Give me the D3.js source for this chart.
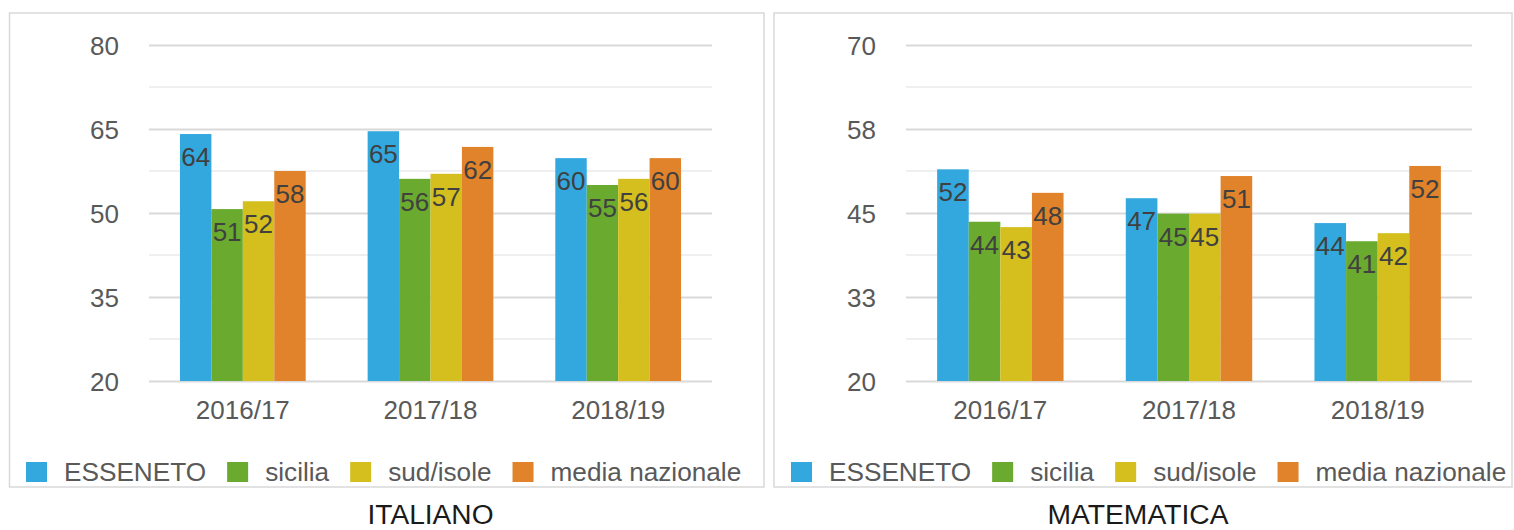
<!DOCTYPE html>
<html>
<head>
<meta charset="utf-8">
<script src="https://cdn.jsdelivr.net/npm/d3@7"></script>
<style>
  html, body { margin: 0; padding: 0; background: #ffffff; }
  svg { display: block; }
  text { font-family: "Liberation Sans", Arial, Helvetica, sans-serif; }
</style>
</head>
<body>
<svg id="chart" width="1514" height="530"></svg>
<script>
// ---------- DATA ----------
const categories = ["2016/17", "2017/18", "2018/19"];
const seriesNames = ["ESSENETO", "sicilia", "sud/isole", "media nazionale"];
const seriesColors = ["#33a8df", "#6aab2f", "#d4bf1f", "#e0832a"];

// ITALIANO
const italianoEsseneto = [64.1, 64.6, 59.8];
const italianoSicilia  = [50.7, 56.1, 55.0];
const italianoSud      = [52.1, 57.0, 56.1];
const italianoMedia    = [57.5, 61.8, 59.8];
const italianoTicks      = [20, 35, 50, 65, 80];
const italianoTickLabels = ["20", "35", "50", "65", "80"];

// MATEMATICA
const matematicaEsseneto = [51.5, 47.2, 43.5];
const matematicaSicilia  = [43.7, 44.9, 40.8];
const matematicaSud      = [42.9, 44.9, 42.0];
const matematicaMedia    = [48.0, 50.5, 52.0];
const matematicaTicks      = [20, 32.5, 45, 57.5, 70];
const matematicaTickLabels = ["20", "33", "45", "58", "70"];

const panels = [
  { title: "ITALIANO", series: [italianoEsseneto, italianoSicilia, italianoSud, italianoMedia],
    ticks: italianoTicks, tickLabels: italianoTickLabels,
    box: { x: 9.5, y: 13, w: 754.5, h: 474 }, plot: { x0: 149, x1: 712, y0: 45, y1: 381 },
    legendX: 26, titleX: 430.5, titleW: 126 },
  { title: "MATEMATICA", series: [matematicaEsseneto, matematicaSicilia, matematicaSud, matematicaMedia],
    ticks: matematicaTicks, tickLabels: matematicaTickLabels,
    box: { x: 774, y: 13, w: 738, h: 474 }, plot: { x0: 906, x1: 1472, y0: 45, y1: 381 },
    legendX: 791, titleX: 1138, titleW: 181 }
];

const svg = d3.select("#chart");

panels.forEach(p => {
  const g = svg.append("g");

  // panel border
  g.append("rect")
    .attr("x", p.box.x).attr("y", p.box.y)
    .attr("width", p.box.w).attr("height", p.box.h)
    .attr("fill", "#fff").attr("stroke", "#d9d9d9").attr("stroke-width", 1.5);

  const y = d3.scaleLinear()
    .domain([p.ticks[0], p.ticks[p.ticks.length - 1]])
    .range([p.plot.y1, p.plot.y0]);

  const x0 = d3.scaleBand()
    .domain(categories)
    .range([p.plot.x0, p.plot.x1])
    .paddingInner(0.33).paddingOuter(0.165);

  const x1 = d3.scaleBand()
    .domain(d3.range(seriesNames.length))
    .range([0, x0.bandwidth()])
    .padding(0);

  // minor gridlines
  const minor = p.ticks.slice(1).map((t, i) => (t + p.ticks[i]) / 2);
  g.selectAll(".minor").data(minor).enter().append("line")
    .attr("x1", p.plot.x0).attr("x2", p.plot.x1)
    .attr("y1", d => y(d)).attr("y2", d => y(d))
    .attr("stroke", "#efefef").attr("stroke-width", 2);

  // major gridlines via axis
  const axis = d3.axisLeft(y)
    .tickValues(p.ticks)
    .tickFormat((d, i) => p.tickLabels[i])
    .tickSize(-(p.plot.x1 - p.plot.x0))
    .tickPadding(30);
  const ag = g.append("g")
    .attr("transform", `translate(${p.plot.x0},0)`)
    .call(axis);
  ag.select(".domain").remove();
  ag.selectAll(".tick line").attr("stroke", "#d9d9d9").attr("stroke-width", 2);
  ag.selectAll(".tick text")
    .attr("fill", "#595959")
    .style("font-size", "26px")
    .attr("dy", "0.36em");

  // bars
  const data = [];
  categories.forEach((c, ci) => {
    p.series.forEach((s, si) => data.push({ cat: c, si: si, v: s[ci] }));
  });

  g.selectAll(".bar").data(data).enter().append("rect")
    .attr("x", d => x0(d.cat) + x1(d.si))
    .attr("y", d => y(d.v))
    .attr("width", x1.bandwidth())
    .attr("height", d => y(p.ticks[0]) - y(d.v))
    .attr("fill", d => seriesColors[d.si]);

  // data labels
  g.selectAll(".lbl").data(data).enter().append("text")
    .attr("x", d => x0(d.cat) + x1(d.si) + x1.bandwidth() / 2)
    .attr("y", d => y(d.v) + 32)
    .attr("text-anchor", "middle")
    .attr("fill", "#404040")
    .style("font-size", "26px")
    .text(d => Math.round(d.v));

  // x axis labels
  const xa = d3.axisBottom(x0).tickSize(0).tickPadding(0);
  const xg = g.append("g").attr("transform", `translate(0,${p.plot.y1})`).call(xa);
  xg.select(".domain").remove();
  xg.selectAll(".tick text")
    .attr("fill", "#595959")
    .style("font-size", "26px")
    .attr("y", 38).attr("dy", 0);

  // legend
  const lg = g.append("g").attr("transform", `translate(${p.legendX},0)`);
  let cx = 0;
  seriesNames.forEach((name, i) => {
    const it = lg.append("g");
    it.append("rect").attr("x", cx).attr("y", 462).attr("width", 21).attr("height", 20)
      .attr("fill", seriesColors[i]);
    const t = it.append("text").attr("x", cx + 38).attr("y", 481)
      .attr("fill", "#595959").style("font-size", "26.2px").text(name);
    const w = t.node().getComputedTextLength();
    cx += 38 + w + 21;
  });

  // title under panel
  svg.append("text")
    .attr("x", p.titleX).attr("y", 524)
    .attr("text-anchor", "middle")
    .attr("fill", "#1a1a1a")
    .style("font-size", "27px")
    .attr("textLength", p.titleW)
    .attr("lengthAdjust", "spacingAndGlyphs")
    .text(p.title);
});
</script>
</body>
</html>
